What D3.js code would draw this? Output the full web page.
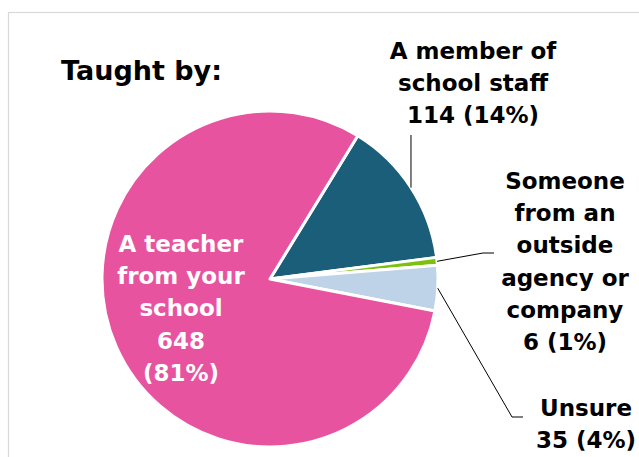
<!DOCTYPE html>
<html><head><meta charset="utf-8">
<script src="https://cdn.jsdelivr.net/npm/d3@7"></script>
<style>
html,body{margin:0;padding:0;background:#fff;}
svg text{font-family:"DejaVu Sans",Verdana,sans-serif;font-weight:bold;}
</style></head>
<body>
<script>
const title = "Taught by:";
const categories = ["A member of school staff", "Someone from an outside agency or company", "Unsure", "A teacher from your school"];
const values = [114, 6, 35, 648];
const percents = ["14%", "1%", "4%", "81%"];
const labelLines = [
  ["A member of", "school staff"],
  ["Someone", "from an", "outside", "agency or", "company"],
  ["Unsure"],
  ["A teacher", "from your", "school"]
];
const colors = ["#1B5E79", "#7DC10F", "#BFD3E8", "#E8539F"];

const W = 639, H = 457;
const svg = d3.select("body").append("svg").attr("width", W).attr("height", H);

// frame
svg.append("rect").attr("x", 8.5).attr("y", 12.5).attr("width", 700).attr("height", 500)
  .attr("fill", "#fff").attr("stroke", "#d9d9d9").attr("stroke-width", 1.2);

svg.append("text").attr("x", 61).attr("y", 80).attr("font-size", 27)
  .attr("fill", "#000").text(title);

const cx = 270, cy = 279, R = 168;
const startA = 31.5 * Math.PI / 180;
const pie = d3.pie().sort(null).startAngle(startA).endAngle(startA + 2 * Math.PI);
const arcs = pie(values);
const arc = d3.arc().innerRadius(0).outerRadius(R);
const g = svg.append("g").attr("transform", `translate(${cx},${cy})`);
g.selectAll("path").data(arcs).enter().append("path")
  .attr("d", arc).attr("fill", (d, i) => colors[i])
  .attr("stroke", "#fff").attr("stroke-width", 3).attr("stroke-linejoin", "round");

// label layout (positions only)
const labelLayout = [
  {x: 473, y: 59, anchor: "middle", color: "#000", leader: [[0, -135 + 0], null]},
  {x: 565, y: 189, anchor: "middle", color: "#000"},
  {x: 586, y: 416, anchor: "middle", color: "#000"},
  {x: 181, y: 252, anchor: "middle", color: "#fff"}
];
const lh = 32.2;
arcs.forEach((a, i) => {
  const L = labelLayout[i];
  const lines = labelLines[i].slice();
  if (i === 3) { lines.push(String(values[i])); lines.push("(" + percents[i] + ")"); }
  else lines.push(values[i] + " (" + percents[i] + ")");
  const t = svg.append("text").attr("text-anchor", L.anchor).attr("font-size", 23).attr("fill", L.color);
  lines.forEach((s, k) => t.append("tspan").attr("x", L.x).attr("y", L.y + k * lh).text(s));
});

// leader lines from slice mid-angle on the rim
function rim(a) {
  const m = (a.startAngle + a.endAngle) / 2;
  return [cx + R * Math.sin(m), cy - R * Math.cos(m)];
}
const line = d3.line();
const p0 = rim(arcs[0]);
svg.append("path").attr("d", line([p0, [p0[0], 135]]))
  .attr("fill", "none").attr("stroke", "#000").attr("stroke-width", 1);
const p1 = rim(arcs[1]);
svg.append("path").attr("d", line([p1, [483, 253], [494, 253]]))
  .attr("fill", "none").attr("stroke", "#000").attr("stroke-width", 1);
const p2 = rim(arcs[2]);
svg.append("path").attr("d", line([p2, [512, 417], [523, 417]]))
  .attr("fill", "none").attr("stroke", "#000").attr("stroke-width", 1);
</script>
</body></html>
